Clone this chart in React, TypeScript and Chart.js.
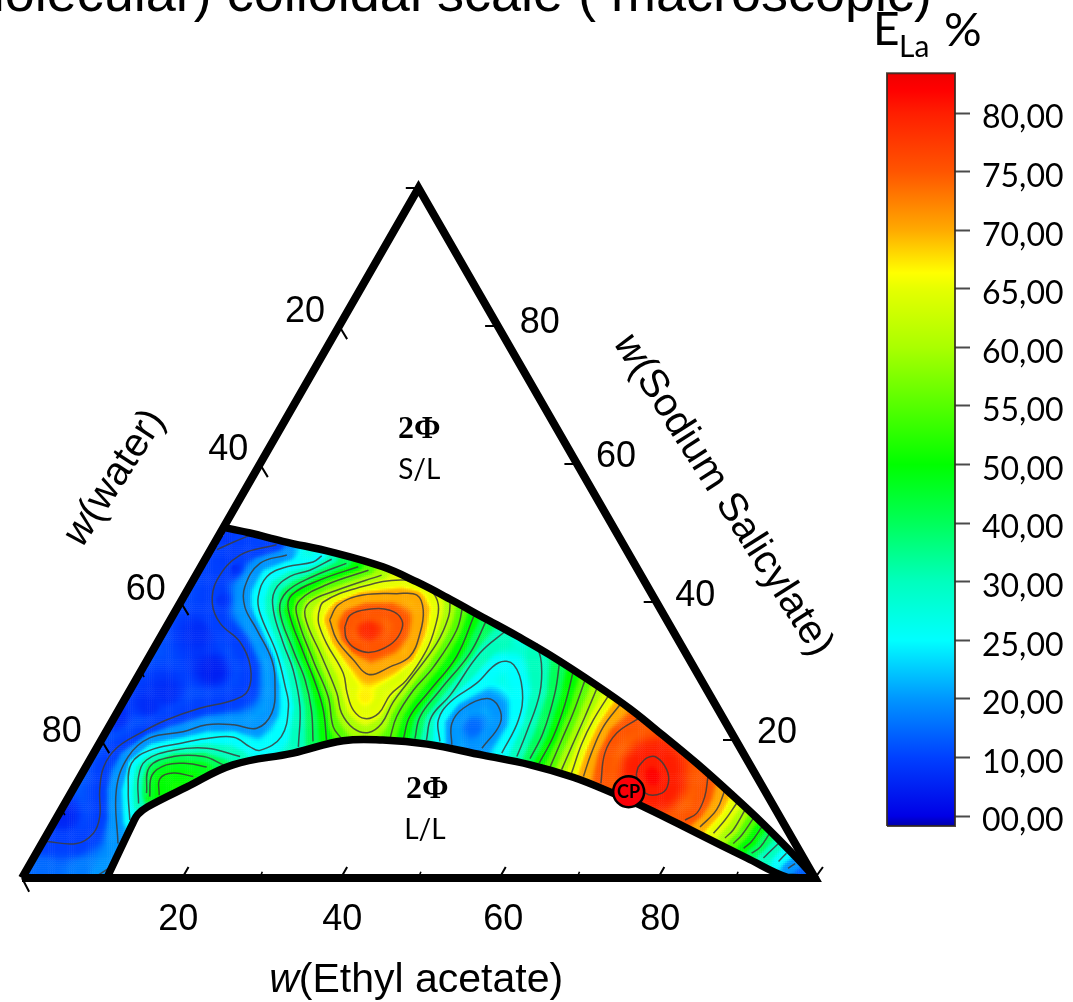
import React, { useEffect, useRef } from "react";
import { Chart, registerables } from "chart.js";

Chart.register(...registerables);

type P = [number, number];

// Colour bar: E_La % tick labels, bottom to top
const barLevels = [0, 10, 20, 25, 30, 40, 50, 55, 60, 65, 70, 75, 80];
const barLabels = ["00,00", "10,00", "20,00", "25,00", "30,00", "40,00", "50,00", "55,00", "60,00", "65,00", "70,00", "75,00", "80,00"];
const barStops: [number, string][] = [
  [-0.17, "#0000aa"], [0, "#0000e6"], [1, "#0040ff"], [2, "#0096ff"], [3, "#00ffff"], [4, "#00ffbe"],
  [5, "#00ff5a"], [6, "#00ff00"], [7, "#55ff00"], [8, "#aaff00"], [9, "#e6ff00"], [9.27, "#ffff00"],
  [10, "#ffaa00"], [11, "#ff5500"], [12, "#ff1e00"], [12.4, "#ff0000"], [12.68, "#f00000"],
];
const baseTicks = [20, 40, 60, 80];
const baseLabelAt = [19.7, 40.4, 60.7, 80.5];
const baseMinor = [30, 50, 70, 90];
const leftTicks = [80, 60, 40, 20];
const leftMinor = [30, 10];
const rightTicks = [100, 80, 60, 40, 20];

// Ternary frame and phase boundaries as (w(Ethyl acetate) position, height %)
const frame: P[] = [[0, 0], [50, 100], [100, 0], [0, 0]];
const upperBoundary: P[] = [[25.85, 50.7], [28.75, 50], [32.9, 48.8], [39.2, 47.2], [45.5, 45.1], [49.8, 42.9], [54, 40.4], [58.1, 37.8], [62.4, 35.1], [66.6, 32.3], [72.5, 27.9], [76.7, 24.5], [80.8, 20.7], [85.1, 16.6], [89.3, 12.3], [93.4, 7.9], [97.7, 2.9], [100, 0]];
const lowerBoundary: P[] = [[10.7, 0], [14, 8], [14.6, 9.2], [15.8, 10.3], [20.8, 13.2], [26.6, 16.4], [34.2, 18.1], [40.5, 19.9], [45.5, 20], [51.1, 19.4], [58.1, 17.8], [64.1, 16.4], [69.5, 14.6], [74.5, 12.3], [78.8, 10.1], [85.1, 6.5], [91.4, 2.9], [96.5, 0.1], [99, 0]];
const criticalPoint: P = [76.5, 12.5];

// Iso-lines of E_La
const c10main: P[] = [[32.1, 48.3], [27.5, 46.8], [24.6, 43.2], [24, 39.8], [25, 36.9], [27.5, 34.2], [28.8, 30.6], [28.5, 27.2], [26.7, 25.8], [22.4, 24.6], [18.2, 22.9], [14.9, 21], [11.9, 18.8], [10.3, 16.1], [9.8, 12.8], [9.8, 8.9], [9, 6.5], [6.9, 5], [3.1, 5.3]];
const c10apex: P[] = [[24.6, 47.6], [26.7, 48.7], [28.8, 49.7]];
const c20main: P[] = [[33.4, 46.8], [30, 45.6], [28.1, 42.2], [28.1, 39.3], [29.6, 36], [31.5, 31.6], [31.9, 27.8], [31.5, 23.9], [29.6, 21.7], [26.7, 22.2], [23.3, 22.2], [20.3, 21.2], [16.1, 20.3], [13.4, 17.6], [11.9, 12.8], [12.1, 5]];
const c20corner: P[] = [[9.6, 0.4], [10.9, 1.4]];
const c20dip: P[] = [[54.2, 19.3], [54.2, 22.4], [55.65, 24.6], [58.6, 26], [60.1, 24.8], [60.3, 22.4], [58, 18.8]];
const c20end: P[] = [[97.5, 2.1], [96.6, 1.4]];
const c25main: P[] = [[37.8, 46.7], [36.7, 45.8], [33.4, 45.1], [30.9, 43.7], [29.8, 40.8], [30, 38.4], [32.1, 32.6], [33.2, 27.7], [33.6, 24.8], [32.7, 20.5], [30, 18.5], [28.75, 19], [26.7, 20.4], [23.3, 20.2], [19.9, 19.5], [16.1, 18.5], [13.8, 16.6], [13.4, 12.8], [13.6, 8.4]];
const c25dip: P[] = [[52.7, 19.8], [52.5, 22.9], [54, 25.5], [57.3, 28.2], [60.1, 31.2], [62, 30.9], [63.1, 27.2], [62.6, 22.9], [60.5, 18.1]];
const c25end: P[] = [[96.4, 3.6], [95.4, 2.4]];
const c30left: P[] = [[39.05, 46.2], [36.3, 44.6], [33.8, 43.7], [31.9, 41.7], [31.7, 38.8], [32.95, 34], [34.2, 30.1], [35.05, 24.8], [34.85, 19]];
const c30spot: P[] = [[27.5, 17.6], [23.3, 18.8], [19.1, 18.5], [15.7, 17.1], [14.7, 14.7], [14.7, 10.8]];
const c30mid: P[] = [[51, 20], [51.65, 23.4], [54, 26.5], [57.75, 32.6], [61.1, 35.9]];
const c30right: P[] = [[64.9, 34], [65.5, 31.1], [65.3, 26.8], [63.6, 21], [62.4, 17.6]];
const c30end: P[] = [[95.4, 5], [94.3, 3.8], [93.5, 2.9]];
const c40left: P[] = [[40.9, 45.6], [36.7, 43.7], [33.4, 41.5], [32.5, 38.8], [34.2, 33], [35.7, 28.7], [36.5, 24.3], [36.7, 19.8]];
const c40spot: P[] = [[25.4, 16.4], [22.9, 17.6], [19.1, 17.6], [16.1, 16.1], [15.7, 12.3]];
const c40mid: P[] = [[49.55, 20.2], [50.2, 23.4], [52.7, 27.2], [56.5, 32.6], [58.6, 37.4]];
const c40right: P[] = [[67.8, 31.4], [67.2, 26.8], [65.7, 21], [64.06, 17.3]];
const c40end: P[] = [[94.3, 6.5], [93.1, 4.5], [92, 3.6]];
const c47spot: P[] = [[23.3, 16.1], [20.8, 16.6], [18.2, 16.4], [16.4, 14.9], [16.1, 11.8]];
const c50spot: P[] = [[21.6, 14.7], [19.1, 15.2], [17.4, 14.4], [17.3, 12]];
const c50left: P[] = [[42.4, 45.1], [37.6, 43.2], [34, 41], [33.6, 38.8], [35.5, 32.6], [37, 28.2], [38, 24.3], [38.4, 20]];
const c50mid: P[] = [[48.1, 20.2], [48.9, 23.4], [51.45, 27.2], [54.8, 32.1], [57.1, 38.3]];
const c50right: P[] = [[69.5, 29.9], [68.5, 25.3], [67, 20.5], [65.2, 16.6]];
const c50end: P[] = [[93.3, 7.4], [92, 5.3], [91, 4.3]];
const c55left: P[] = [[43.7, 44.6], [38.4, 42.5], [35.05, 40.3], [34.6, 38.4], [36.7, 31.6], [38.6, 26.3], [39.25, 21.9], [40.3, 20.2]];
const c55mid: P[] = [[46.4, 20.2], [47.25, 23.4], [49.35, 27.2], [51.9, 30.6], [54.8, 35.9], [55.65, 39.8]];
const c55right: P[] = [[71, 28.7], [69.5, 23.9], [68.05, 20], [66.6, 16.1]];
const c55end: P[] = [[92.2, 8.6], [90.75, 6.2], [89.7, 5]];
const c60peak: P[] = [[45.35, 43.9], [39.7, 41.7], [36.3, 40], [35.7, 37.9], [37.8, 32.1], [39.7, 26.8], [40.3, 23.9], [41.8, 21.7], [43.7, 21.1], [45.35, 22.4], [46.8, 25.5], [48.9, 28.7], [52.3, 34], [53.8, 37.9], [54, 40.3]];
const c60right: P[] = [[72.5, 27.5], [71, 23.4], [69.3, 19], [68.05, 15.7]];
const c60end: P[] = [[91.2, 9.9], [89.7, 7], [88.65, 5.8]];
const c65peak: P[] = [[37.4, 38.4], [38, 40], [42.2, 42], [48.1, 43.2], [51.45, 41.7], [52.5, 39.6], [52.1, 36.4], [51, 33], [48.5, 28.7], [46.4, 26.5], [45, 23.9], [43.25, 23.1], [41.8, 24.3], [41, 26.8], [40.5, 29.7], [38.4, 34], [37.4, 36.9], [37.4, 38.4]];
const c65right: P[] = [[74, 26.5], [72.05, 22.9], [70.6, 19.5], [69.3, 15.2]];
const c65end: P[] = [[90.1, 10.8], [88.65, 8.4], [87.2, 6.5]];
const c70peak: P[] = [[38.8, 37.4], [39.9, 39.6], [43, 41], [47.25, 41.2], [49.8, 41], [50.6, 38.8], [50.2, 35.5], [48.9, 32.1], [46.4, 30.6], [43.7, 29.5], [41.8, 31.6], [39.7, 34.5], [38.8, 37.4]];
const c70right: P[] = [[75.4, 25.1], [73.3, 21.9], [71.8, 18.1], [70.8, 14.7]];
const c70end: P[] = [[88.65, 12.8], [87.6, 9.9], [85.5, 7.4]];
const c75peak: P[] = [[40.7, 36.4], [41.4, 38.1], [43.5, 38.9], [46.4, 38.8], [47.9, 37.4], [47.7, 35.5], [46.4, 33.8], [43.9, 32.7], [42, 33.3], [40.9, 34.7], [40.7, 36.4]];
const c75right: P[] = [[77.7, 23.1], [75, 21], [73.5, 18.1], [73, 13.7]];
const c75end: P[] = [[86.5, 14.7], [86.1, 11.8], [85.1, 9.4], [83.6, 8.4]];
const c80right: P[] = [[77.7, 16.1], [78.8, 17.4], [80, 17.5], [81.3, 15.7], [81.5, 13.7], [80.7, 12.3], [78.6, 12.3], [77.5, 14.7], [77.7, 16.1]];

const isoLines: [number, P[]][] = [
  [10, c10main], [10, c10apex], [20, c20main], [20, c20corner], [20, c20dip], [20, c20end],
  [25, c25main], [25, c25dip], [25, c25end], [30, c30left], [30, c30spot], [30, c30mid], [30, c30right], [30, c30end],
  [40, c40left], [40, c40spot], [40, c40mid], [40, c40right], [40, c40end], [47, c47spot], [50, c50spot],
  [50, c50left], [50, c50mid], [50, c50right], [50, c50end], [55, c55left], [55, c55mid], [55, c55right], [55, c55end],
  [60, c60peak], [60, c60right], [60, c60end], [65, c65peak], [65, c65right], [65, c65end],
  [70, c70peak], [70, c70right], [70, c70end], [75, c75peak], [75, c75right], [75, c75end], [80, c80right],
];
// Spots between the iso-lines: [position, height, E_La]
const fieldSpots: [number, number, number][] = [
  [24.1, 30.1, 5], [18.2, 26.8, 7], [22.4, 35.5, 7], [5.2, 8.9, 6], [11.9, 23.4, 7], [16, 25, 7], [26.7, 45.1, 7], [25, 40.3, 8], [26, 48.7, 8],
  [2.7, 1.2, 15], [7.7, 1.2, 17], [19.5, 13.2, 51], [22.4, 14.2, 48], [43.7, 35.9, 79], [43.25, 26.3, 67],
  [56.9, 21.9, 15], [57, 18, 19], [63.2, 35, 27], [79.6, 14.7, 83], [98.3, 0.7, 14],
];

// Plain text placed in the same (position, height) coordinates
const leftLabels: [string, number, number][] = [["20", 35.7, 82], ["40", 26, 62], ["60", 15.6, 41.7], ["80", 5, 21.2]];
const rightLabels: [string, number, number][] = [["80", 65.3, 80.4], ["60", 74.9, 61], ["40", 84.9, 40.9], ["20", 95.2, 21]];
const phaseBold: [string, number, number][] = [["2Φ", 50.1, 64.9], ["2Φ", 51.1, 12.8]];
const phaseText: [string, number, number][] = [["S/L", 50.1, 59.1], ["L/L", 50.8, 7]];
const titleText = "molecular) colloidal scale ( macroscopic)";

const X_PER = 7.93, Y_PER = 6.9, X0 = 22, Y0 = 878, W = 1073, H = 1002, BAR_RIGHT = 955;
const TICK_STEP = 58.58, TICK_ZERO = 816;

const hex = (s: string) => [parseInt(s.slice(1, 3), 16), parseInt(s.slice(3, 5), 16), parseInt(s.slice(5, 7), 16)];
function levelToBar(v: number) {
  if (v <= 0) return v / 10;
  for (let i = 1; i < barLevels.length; i++) if (v <= barLevels[i]) return i - 1 + (v - barLevels[i - 1]) / (barLevels[i] - barLevels[i - 1]);
  return 12 + (v - 80) / 8;
}
function barColor(i: number) {
  for (let k = 1; k < barStops.length; k++) {
    if (i <= barStops[k][0]) {
      const [a, ca] = barStops[k - 1], [b, cb] = barStops[k];
      const t = Math.max(0, (i - a) / (b - a));
      const A = hex(ca), B = hex(cb);
      return `rgb(${Math.round(A[0] + (B[0] - A[0]) * t)},${Math.round(A[1] + (B[1] - A[1]) * t)},${Math.round(A[2] + (B[2] - A[2]) * t)})`;
    }
  }
  return barStops[barStops.length - 1][1];
}
function inside(x: number, y: number, poly: P[]) {
  let c = false;
  for (let i = 0, j = poly.length - 1; i < poly.length; j = i++) {
    const [xi, yi] = poly[i], [xj, yj] = poly[j];
    if (yi > y !== yj > y && x < ((xj - xi) * (y - yi)) / (yj - yi) + xi) c = !c;
  }
  return c;
}
// Fill between the traced iso-lines, weighted by the distance to each line
function fieldAt(x: number, y: number) {
  const ax = X_PER / Y_PER;
  let sw = 0, sv = 0;
  const add = (d2: number, v: number) => {
    const w = 1 / Math.pow(Math.max(d2, 0.0004), 1.6);
    sw += w; sv += w * v;
  };
  for (const [lv, pts] of isoLines) {
    let best = 1e12;
    for (let i = 0; i + 1 < pts.length; i++) {
      const x1 = pts[i][0] * ax, y1 = pts[i][1], x2 = pts[i + 1][0] * ax, y2 = pts[i + 1][1];
      const dx = x2 - x1, dy = y2 - y1, px = x * ax - x1, py = y - y1;
      const t = Math.min(1, Math.max(0, (px * dx + py * dy) / (dx * dx + dy * dy)));
      const ex = px - t * dx, ey = py - t * dy, d = ex * ex + ey * ey;
      if (d < best) best = d;
    }
    add(best, lv);
  }
  for (const [sx, sy, v] of fieldSpots) {
    const ex = (x - sx) * ax, ey = y - sy;
    add(ex * ex + ey * ey, v);
  }
  return sv / sw;
}
function buildField() {
  const region: P[] = [[0, 0], ...upperBoundary, ...[...lowerBoundary].reverse()];
  const pts: { x: number; y: number }[] = [], colors: string[] = [];
  for (let y = 0.14; y < 52; y += 0.28) {
    for (let x = 0.12; x < 100; x += 0.24) {
      if (!inside(x, y, region)) continue;
      pts.push({ x, y });
      colors.push(barColor(levelToBar(fieldAt(x, y))));
    }
  }
  return { pts, colors };
}
const xy = (a: P[]) => a.map(([x, y]) => ({ x, y }));
const tickSegs = (list: number[], f: (v: number) => [P, P]) => {
  const out: any[] = [];
  list.forEach((v) => { const [a, b] = f(v); out.push({ x: a[0], y: a[1] }, { x: b[0], y: b[1] }, { x: NaN, y: NaN }); });
  return out;
};

function mixed(ctx: any, cx: number, cy: number, deg: number, rest: string, size: number) {
  const family = '"Liberation Sans"';
  ctx.save();
  ctx.translate(cx, cy);
  ctx.rotate((deg * Math.PI) / 180);
  ctx.textBaseline = "middle";
  ctx.textAlign = "left";
  ctx.fillStyle = "#000";
  ctx.font = `italic ${size}px ${family}`;
  const w1 = ctx.measureText("w").width;
  ctx.font = `${size}px ${family}`;
  const w2 = ctx.measureText(rest).width;
  const s = -(w1 + w2) / 2;
  ctx.font = `italic ${size}px ${family}`;
  ctx.fillText("w", s, 0);
  ctx.font = `${size}px ${family}`;
  ctx.fillText(rest, s + w1, 0);
  ctx.restore();
}

const textPlugin = {
  id: "ternaryText",
  afterDatasetsDraw(chart: any) {
    const { ctx, scales } = chart;
    const px = (v: number) => scales.x.getPixelForValue(v);
    const py = (v: number) => scales.y.getPixelForValue(v);
    const put = (t: string, x: number, y: number, font: string, align = "center", base = "middle") => {
      ctx.font = font; ctx.textAlign = align; ctx.textBaseline = base; ctx.fillStyle = "#000";
      ctx.fillText(t, x, y);
    };
    ctx.save();
    for (const [t, x, y] of [...leftLabels, ...rightLabels]) put(t, px(x), py(y), '36px "Liberation Sans"');
    for (const [t, x, y] of phaseBold) put(t, px(x), py(y), 'bold 32px "Liberation Serif"');
    for (const [t, x, y] of phaseText) put(t, px(x), py(y), '28px "Lato"');
    put("CP", px(criticalPoint[0]), py(criticalPoint[1]), 'bold 18px "Lato"');
    mixed(ctx, px(49.7), py(-14.9), 0, "(Ethyl acetate)", 41);
    mixed(ctx, px(11.7), py(58), -57, "(water)", 40);
    mixed(ctx, px(88.4), py(55.5), 57.5, "(Sodium Salicylate)", 40);
    put(titleText, 932, 10.5, '54px "Liberation Sans"', "right", "alphabetic");
    put("E", 873, 45, '46px "Lato"', "left", "alphabetic");
    put("La", 899, 57, '30px "Lato"', "left", "alphabetic");
    put("%", 944, 46, '47px "Lato"', "left", "alphabetic");
    ctx.restore();
  },
};

export default function App() {
  const ref = useRef<HTMLCanvasElement | null>(null);
  useEffect(() => {
    if (!ref.current) return;
    const { pts, colors } = buildField();
    const barX = (921 - X0) / X_PER;
    const barL = (887 - X0) / X_PER, barR = (BAR_RIGHT - X0) / X_PER;
    const barTop = barStops[barStops.length - 1][0], barBottom = barStops[0][0];
    const datasets: any[] = [];
    datasets.push({
      data: pts, parsing: false, normalized: true, pointStyle: "rect", pointRadius: 1.7, pointBorderWidth: 0,
      pointBackgroundColor: colors, showLine: false, order: 100, clip: false,
    });
    for (const [, line] of isoLines) {
      datasets.push({
        data: xy(line), showLine: true, pointRadius: 0, borderColor: "rgba(60,60,60,0.85)", borderWidth: 1.5,
        tension: 0.4, order: 50, clip: false,
      });
    }
    for (const b of [upperBoundary, lowerBoundary]) {
      datasets.push({ data: xy(b), showLine: true, pointRadius: 0, borderColor: "#000", borderWidth: 7.5, tension: 0.4, order: 10, clip: false, borderCapStyle: "round" });
    }
    datasets.push({ data: xy(frame), showLine: true, pointRadius: 0, borderColor: "#000", borderWidth: 8, borderJoinStyle: "miter", tension: 0, order: 9, clip: false });
    const majorTicks = [
      ...tickSegs(baseTicks, (v) => [[v + 0.2, 0], [v + 1.0, 1.6]]),
      ...tickSegs(leftTicks, (v) => [[(100 - v) / 2, 100 - v], [(100 - v) / 2 + 1, 100 - v - 1.9]]),
      ...tickSegs(rightTicks, (v) => [[50 + (100 - v) / 2, v], [50 + (100 - v) / 2 - 1.6, v]]),
      { x: 0, y: 0 }, { x: 0.9, y: -2 }, { x: NaN, y: NaN }, { x: 100, y: 0 }, { x: 101, y: 1.6 },
    ];
    datasets.push({ data: majorTicks, showLine: true, spanGaps: false, pointRadius: 0, borderColor: "#000", borderWidth: 2, tension: 0, order: 8, clip: false });
    const minorTicks = [
      ...tickSegs(baseMinor, (v) => [[v, 0], [v + 0.3, 0.9]]),
      ...tickSegs(leftMinor, (v) => [[v / 2, v], [v / 2 + 0.4, v - 0.9]]),
    ];
    datasets.push({ data: minorTicks, showLine: true, spanGaps: false, pointRadius: 0, borderColor: "#000", borderWidth: 1.6, tension: 0, order: 8, clip: false });
    datasets.push({
      data: [{ x: criticalPoint[0], y: criticalPoint[1] }], pointRadius: 15.5, pointBackgroundColor: "#fa0008",
      pointBorderColor: "#000", pointBorderWidth: 2.5, showLine: false, order: 1, clip: false,
    });
    datasets.push({
      yAxisID: "yc", data: [{ x: barX, y: barBottom }, { x: barX, y: barTop }], showLine: true, pointRadius: 0, borderWidth: BAR_RIGHT - 887, borderCapStyle: "butt", order: 5, clip: false,
      borderColor: (c: any) => {
        const s = c.chart.scales.yc;
        if (!s) return "#f00";
        const y0 = s.getPixelForValue(barBottom), y1 = s.getPixelForValue(barTop);
        if (!Number.isFinite(y0) || !Number.isFinite(y1)) return "#f00";
        const g = c.chart.ctx.createLinearGradient(0, y0, 0, y1);
        barStops.forEach(([i, col]) => g.addColorStop((i - barBottom) / (barTop - barBottom), col));
        return g;
      },
    });
    datasets.push({
      yAxisID: "yc", data: [{ x: barL, y: barBottom }, { x: barL, y: barTop }, { x: barR, y: barTop }, { x: barR, y: barBottom }, { x: barL, y: barBottom }],
      showLine: true, pointRadius: 0, borderColor: "rgba(50,40,30,0.85)", borderWidth: 2, order: 4, clip: false,
    });
    const chart = new Chart(ref.current, {
      type: "scatter",
      data: { datasets },
      plugins: [textPlugin],
      options: {
        animation: false, responsive: false, events: [],
        layout: { padding: 0, autoPadding: false },
        plugins: { legend: { display: false }, tooltip: { enabled: false }, title: { display: false } },
        scales: {
          x: {
            type: "linear", position: "bottom", min: -X0 / X_PER, max: (BAR_RIGHT - X0) / X_PER,
            grid: { display: false }, border: { display: false },
            afterBuildTicks: (s: any) => { s.ticks = baseLabelAt.map((value) => ({ value })); },
            afterFit: (s: any) => { s.height = H - Y0; s.paddingLeft = 0; s.paddingRight = 0; },
            ticks: {
              color: "#000", font: { family: "Liberation Sans", size: 36 }, padding: 12, maxRotation: 0, autoSkip: false,
              callback: (_: any, i: number) => String(baseTicks[i]),
            },
          },
          y: { type: "linear", display: false, min: 0, max: Y0 / Y_PER },
          yc: {
            type: "linear", position: "right", min: (TICK_ZERO - Y0) / TICK_STEP, max: TICK_ZERO / TICK_STEP,
            grid: { drawOnChartArea: false, tickLength: 15, tickColor: "#4a4a4a", tickWidth: 2 }, border: { display: false },
            afterBuildTicks: (s: any) => { s.ticks = barLabels.map((_, value) => ({ value })); },
            afterFit: (s: any) => { s.width = W - BAR_RIGHT; s.paddingTop = 0; s.paddingBottom = 0; },
            ticks: {
              color: "#000", font: { family: "Lato", size: 32 }, padding: 12, autoSkip: false, labelOffset: 5,
              callback: (v: any) => barLabels[Math.round(v)],
            },
          },
        },
      } as any,
    });
    chart.update();
    return () => chart.destroy();
  }, []);
  return <canvas ref={ref} width={W} height={H} style={{ position: "fixed", left: 0, top: 0, display: "block" }} />;
}
